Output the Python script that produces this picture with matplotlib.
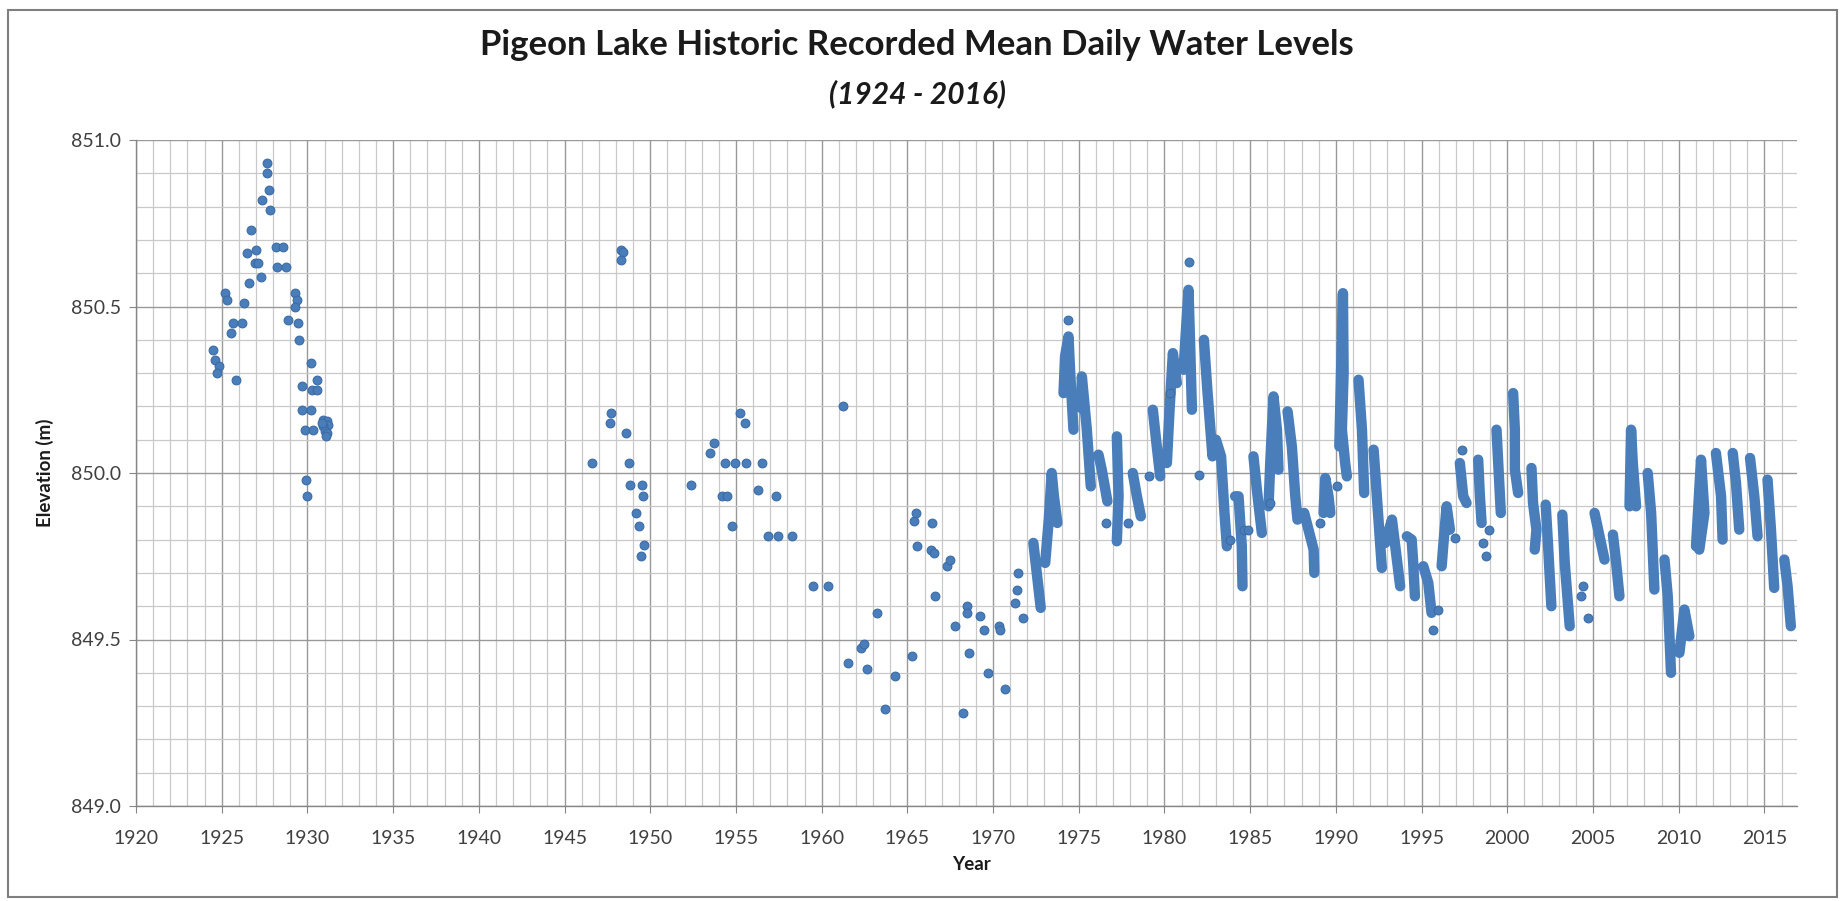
import matplotlib
matplotlib.use('Agg')
import matplotlib.pyplot as plt
from matplotlib.ticker import MultipleLocator, FormatStrFormatter
from matplotlib.patches import Rectangle
import numpy as np

nan = np.nan

# early gauge readings 1924-1931
early_year = [1924.51, 1924.63, 1924.86, 1924.71, 1925.17, 1925.33, 1925.52, 1925.64,
              1925.83, 1926.20, 1926.32, 1926.46, 1926.57, 1926.71, 1926.94, 1926.98,
              1927.14, 1927.27, 1927.37, 1927.62, 1927.66, 1927.76, 1927.82, 1928.17,
              1928.60, 1928.25, 1928.73, 1928.85, 1929.28, 1929.38, 1929.26, 1929.47,
              1929.53, 1929.71, 1929.67, 1929.86, 1929.92, 1929.95, 1930.19, 1930.25,
              1930.58, 1930.58, 1930.19, 1930.35, 1930.93, 1931.13, 1931.22, 1930.89,
              1931.03, 1931.17, 1931.09, 1930.83]
early_level = [850.37, 850.34, 850.32, 850.30, 850.54, 850.52, 850.42, 850.45,
               850.28, 850.45, 850.51, 850.66, 850.57, 850.73, 850.63, 850.67,
               850.63, 850.59, 850.82, 850.93, 850.90, 850.85, 850.79, 850.68,
               850.68, 850.62, 850.62, 850.46, 850.54, 850.52, 850.50, 850.45,
               850.40, 850.26, 850.19, 850.13, 849.98, 849.93, 850.33, 850.25,
               850.28, 850.25, 850.19, 850.13, 850.16, 850.155, 850.145, 850.14,
               850.125, 850.12, 850.11, 850.15]

# scattered readings 1946-1971
mid_year = [1946.58, 1947.67, 1947.73, 1948.31, 1948.40, 1948.28, 1948.60, 1948.74,
            1948.84, 1949.52, 1949.58, 1949.17, 1949.33, 1949.66, 1949.46, 1952.38,
            1953.51, 1953.70, 1954.19, 1954.48, 1954.38, 1954.77, 1954.97, 1955.26,
            1955.55, 1955.61, 1956.27, 1956.54, 1956.85, 1957.34, 1957.44, 1958.29,
            1959.48, 1960.37, 1961.25, 1961.56, 1962.32, 1962.46, 1962.63, 1963.21,
            1963.72, 1964.25, 1965.26, 1965.41, 1965.53, 1965.57, 1966.35, 1966.44,
            1966.54, 1966.62, 1967.32, 1967.51, 1967.75, 1968.25, 1968.45, 1968.45,
            1968.58, 1969.23, 1969.46, 1969.71, 1970.34, 1970.43, 1970.67, 1971.27,
            1971.37, 1971.44, 1971.76]
mid_level = [850.03, 850.15, 850.18, 850.67, 850.665, 850.64, 850.12, 850.03,
             849.965, 849.965, 849.93, 849.88, 849.84, 849.785, 849.75, 849.965,
             850.06, 850.09, 849.93, 849.93, 850.03, 849.84, 850.03, 850.18,
             850.15, 850.03, 849.95, 850.03, 849.81, 849.93, 849.81, 849.81,
             849.66, 849.66, 850.20, 849.43, 849.475, 849.485, 849.41, 849.58,
             849.29, 849.39, 849.45, 849.855, 849.88, 849.78, 849.77, 849.85,
             849.76, 849.63, 849.72, 849.74, 849.54, 849.28, 849.60, 849.58,
             849.46, 849.57, 849.53, 849.40, 849.54, 849.53, 849.35, 849.61,
             849.65, 849.70, 849.565]

# stray daily values that sit off the main seasonal strokes
stray_year = [1974.40, 1976.60, 1977.90, 1979.07, 1980.33, 1981.44, 1982.04, 1983.83,
              1984.61, 1984.90, 1986.13, 1989.09, 1990.06, 1995.68, 1995.97, 1996.94,
              1997.33, 1998.59, 1998.75, 1998.94, 2004.32, 2004.42, 2004.71]
stray_level = [850.46, 849.85, 849.85, 849.99, 850.24, 850.635, 849.995, 849.80,
               849.83, 849.83, 849.91, 849.85, 849.96, 849.53, 849.59, 849.805,
               850.07, 849.79, 849.75, 849.83, 849.63, 849.66, 849.565]

# continuous daily record 1972-2016, one stroke per open-water season (nan = gap)
dense_year = [1972.35, 1972.55, 1972.78, nan,
              1973.04, 1973.25, 1973.42, 1973.55, 1973.75, nan,
              1974.11, 1974.20, 1974.40, 1974.49, 1974.69, nan,
              1975.14, 1975.18, 1975.47, 1975.70, nan,
              1976.15, 1976.34, 1976.67, nan,
              1977.22, 1977.32, 1977.22, nan,
              1978.15, 1978.39, 1978.62, nan,
              1979.32, 1979.55, 1979.75, nan,
              1980.14, 1980.29, 1980.49, 1980.72, nan,
              1981.11, 1981.40, 1981.50, 1981.60, nan,
              1982.30, 1982.50, 1982.80, 1983.00, 1983.30, 1983.50, 1983.64, nan,
              1984.12, 1984.32, 1984.51, 1984.55, nan,
              1985.19, 1985.39, 1985.68, nan,
              1986.07, 1986.17, 1986.36, 1986.56, 1986.65, nan,
              1987.18, 1987.43, 1987.63, 1987.76, nan,
              1988.15, 1988.40, 1988.70, 1988.74, nan,
              1989.28, 1989.38, 1989.57, 1989.67, nan,
              1990.20, 1990.41, 1990.45, 1990.35, 1990.54, 1990.64, nan,
              1991.32, 1991.52, 1991.65, nan,
              1992.20, 1992.39, 1992.59, 1992.68, nan,
              1992.88, 1993.27, 1993.46, 1993.75, nan,
              1994.14, 1994.42, 1994.51, 1994.61, nan,
              1995.10, 1995.39, 1995.58, nan,
              1996.17, 1996.26, 1996.46, 1996.65, nan,
              1997.23, 1997.43, 1997.62, nan,
              1998.30, 1998.40, 1998.50, nan,
              1999.37, 1999.47, 1999.62, nan,
              2000.34, 2000.44, 2000.44, 2000.63, nan,
              2001.41, 2001.50, 2001.70, 2001.60, nan,
              2002.24, 2002.38, 2002.57, nan,
              2003.21, 2003.35, 2003.64, nan,
              2005.09, 2005.38, 2005.67, nan,
              2006.16, 2006.35, 2006.54, nan,
              2007.13, 2007.22, 2007.32, 2007.51, nan,
              2008.19, 2008.39, 2008.58, nan,
              2009.17, 2009.36, 2009.55, nan,
              2010.04, 2010.33, 2010.62, nan,
              2011.01, 2011.30, 2011.50, 2011.20, nan,
              2012.17, 2012.47, 2012.56, nan,
              2013.15, 2013.34, 2013.53, nan,
              2014.16, 2014.41, 2014.60, nan,
              2015.18, 2015.38, 2015.57, nan,
              2016.16, 2016.35, 2016.54]
dense_level = [849.79, 849.70, 849.595, nan,
               849.73, 849.86, 850.00, 849.93, 849.85, nan,
               850.24, 850.35, 850.41, 850.31, 850.13, nan,
               850.195, 850.29, 850.13, 849.96, nan,
               850.055, 850.01, 849.915, nan,
               850.11, 849.93, 849.795, nan,
               850.00, 849.93, 849.87, nan,
               850.19, 850.08, 849.99, nan,
               850.03, 850.185, 850.36, 850.27, nan,
               850.31, 850.55, 850.38, 850.19, nan,
               850.40, 850.25, 850.05, 850.10, 850.05, 849.88, 849.78, nan,
               849.93, 849.93, 849.78, 849.66, nan,
               850.05, 849.95, 849.82, nan,
               849.90, 850.03, 850.23, 850.13, 850.01, nan,
               850.185, 850.08, 849.93, 849.86, nan,
               849.88, 849.83, 849.77, 849.70, nan,
               849.88, 849.985, 849.93, 849.88, nan,
               850.08, 850.54, 850.30, 850.13, 850.03, 849.99, nan,
               850.28, 850.13, 849.94, nan,
               850.07, 849.93, 849.78, 849.715, nan,
               849.79, 849.86, 849.78, 849.66, nan,
               849.81, 849.80, 849.73, 849.63, nan,
               849.72, 849.67, 849.58, nan,
               849.72, 849.78, 849.90, 849.83, nan,
               850.03, 849.93, 849.91, nan,
               850.04, 849.93, 849.85, nan,
               850.13, 850.03, 849.88, nan,
               850.24, 850.13, 850.01, 849.94, nan,
               850.015, 849.91, 849.83, 849.77, nan,
               849.905, 849.78, 849.60, nan,
               849.875, 849.73, 849.54, nan,
               849.88, 849.81, 849.74, nan,
               849.815, 849.73, 849.63, nan,
               849.90, 850.13, 850.03, 849.90, nan,
               850.00, 849.88, 849.65, nan,
               849.74, 849.63, 849.40, nan,
               849.46, 849.59, 849.51, nan,
               849.78, 850.04, 849.88, 849.77, nan,
               850.06, 849.93, 849.80, nan,
               850.06, 849.97, 849.83, nan,
               850.045, 849.93, 849.81, nan,
               849.98, 849.83, 849.655, nan,
               849.74, 849.66, 849.54]

blue = '#4A7EBB'
edge = '#3C6BA5'
font = 'Lato'


def main():
    fig = plt.figure(figsize=(18.43, 9.01), dpi=100)
    ax = fig.add_axes([136 / 1843, 1 - 806 / 901, (1797 - 136) / 1843, (806 - 140) / 901])

    ax.plot(dense_year, dense_level, '-', color=blue, lw=7.5,
            solid_capstyle='round', solid_joinstyle='round', zorder=3)
    for yrs, lev in [(early_year, early_level), (mid_year, mid_level), (stray_year, stray_level)]:
        ax.plot(yrs, lev, 'o', ls='none', ms=6.3, mfc=blue, mec=edge, mew=0.8, zorder=4)

    ax.set_xlim(1920, 2016.9)
    ax.set_ylim(849.0, 851.0)
    ax.xaxis.set_major_locator(MultipleLocator(5))
    ax.xaxis.set_minor_locator(MultipleLocator(1))
    ax.yaxis.set_major_locator(MultipleLocator(0.5))
    ax.yaxis.set_minor_locator(MultipleLocator(0.1))
    ax.yaxis.set_major_formatter(FormatStrFormatter('%.1f'))
    ax.set_axisbelow(True)
    ax.grid(which='major', color='#999999', lw=1.0)
    ax.grid(which='minor', color='#C9C9C9', lw=0.9)

    for s in ['top', 'right']:
        ax.spines[s].set_visible(False)
    for s in ['left', 'bottom']:
        ax.spines[s].set_color('#868686')
        ax.spines[s].set_linewidth(1.0)
    ax.tick_params(which='major', length=5, color='#868686', labelsize=14,
                   labelcolor='#404040', pad=6)
    ax.tick_params(axis='x', which='major', pad=12)
    ax.tick_params(which='minor', length=0)
    for lab in ax.get_xticklabels() + ax.get_yticklabels():
        lab.set_fontfamily(font)

    fig.text(0.4976, 0.950, 'Pigeon Lake Historic Recorded Mean Daily Water Levels',
             ha='center', va='center', fontsize=25, fontweight='bold', family=font, color='#1A1A1A')
    fig.text(0.4976, 0.8957, '(1924 - 2016)', ha='center', va='center', fontsize=21.5,
             fontweight='bold', fontstyle='italic', family=font, color='#1A1A1A')
    fig.text(45 / 1843, 0.475, 'Elevation (m)', rotation=90, ha='center', va='center',
             fontsize=13.5, fontweight='bold', family=font, color='#1A1A1A')
    fig.text(0.527, 0.040, 'Year', ha='center', va='center', fontsize=13.5,
             fontweight='bold', family=font, color='#1A1A1A')

    fig.patches.append(Rectangle((8 / 1843, 4 / 901), 1829 / 1843, 887 / 901,
                                 transform=fig.transFigure, fill=False,
                                 edgecolor='#7F7F7F', lw=1.5))

    fig.savefig('out.png', dpi=100)


if __name__ == '__main__':
    main()
